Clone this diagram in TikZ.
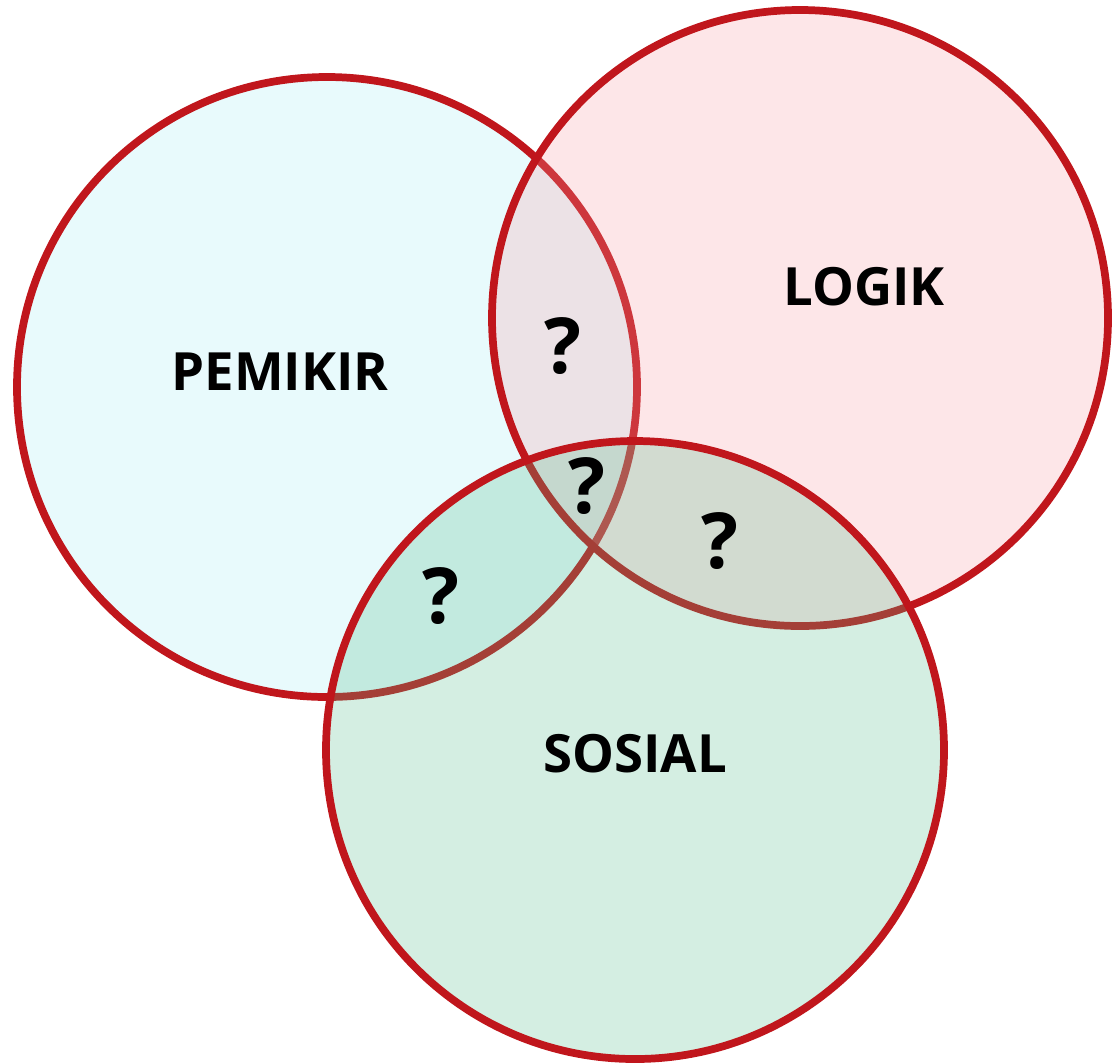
\documentclass[tikz,border=0pt]{standalone}
\usepackage{fontspec}
\setmainfont{Open Sans}
\definecolor{ringred}{RGB}{192,22,28}
\definecolor{pemikirfill}{RGB}{163,235,243}
\definecolor{logikfill}{RGB}{247,155,163}
\definecolor{sosialfill}{RGB}{83,187,139}
\begin{document}
\begin{tikzpicture}[x=0.02cm,y=-0.02cm,
  ring/.style = {draw=ringred, line width=4.4pt, fill opacity=0.25},
  title/.style = {font=\fontsize{30}{32}\selectfont\bfseries, anchor=base, inner sep=0pt},
  ask/.style = {font=\fontsize{44}{46}\selectfont\bfseries, anchor=base, inner sep=0pt},]
\useasboundingbox (0,0) rectangle (1114,1063);
\filldraw[ring, fill=pemikirfill] (327,387) circle (310);
\filldraw[ring, fill=logikfill] (800,318) circle (308);
\filldraw[ring, fill=sosialfill] (635,750) circle (309);
\node (pemikir) at (280,390)[title] {PEMIKIR};
\node (logik) at (864,305)[title] {LOGIK};
\node (sosial) at (635,772)[title] {SOSIAL};
\node (q1) at (563,373)[ask] {?};
\node (q2) at (587,513)[ask] {?};
\node (q3) at (720,568)[ask] {?};
\node (q4) at (441,623)[ask] {?};
\end{tikzpicture}
\end{document}
